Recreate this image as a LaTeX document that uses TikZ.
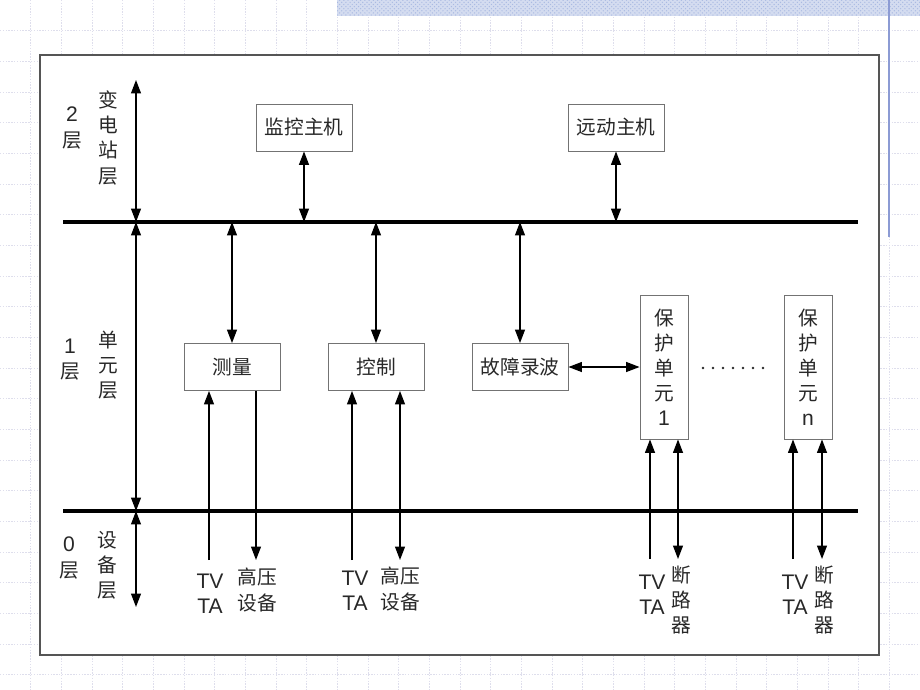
\documentclass[tikz,border=0pt]{standalone}
\usepackage{fontspec}
\setmainfont{Liberation Sans}
\newfontfamily\cjk{Noto Sans CJK SC}
\usepackage{tikz}
\usetikzlibrary{arrows.meta, positioning, patterns}
\definecolor{gridgray}{RGB}{222, 222, 236}
\definecolor{bandblue}{RGB}{212, 220, 240}
\definecolor{banddot}{RGB}{170, 186, 226}
\definecolor{barblue}{RGB}{140, 155, 212}
\definecolor{framegray}{RGB}{85, 85, 85}
\definecolor{boxgray}{RGB}{115, 115, 115}
\definecolor{textgray}{RGB}{40, 40, 40}

\begin{document}
\begin{tikzpicture}[
  x=0.025cm, y=-0.025cm,
  txt/.style={font=\fontsize{15pt}{17.8pt}\selectfont, text=textgray, align=center, inner sep=0pt},
  cjktxt/.style={txt, font=\cjk\fontsize{14pt}{17.8pt}\selectfont},
  box/.style={cjktxt, draw=boxgray, line width=0.6pt, minimum width=2.4cm, minimum height=1.175cm},
  protbox/.style={box, minimum width=1.2cm, minimum height=3.6cm},
  gridline/.style={gridgray, line width=0.4pt, dash pattern=on 1pt off 1pt},
  bus/.style={line width=3pt},
  arr/.style={-{Triangle[length=9.5pt, width=7pt]}, line width=1pt},
  darr/.style={{Triangle[length=9.5pt, width=7pt]}-{Triangle[length=9.5pt, width=7pt]}, line width=1pt}
]
\useasboundingbox (0,0) rectangle (920,690);

% Slide background
\foreach \i in {1,...,29}
  \draw[gridline] (\i*30.667,0) -- (\i*30.667,690);
\foreach \j in {1,...,22}
  \draw[gridline] (0,\j*30.667) -- (920,\j*30.667);
\fill[bandblue] (337,0) rectangle (920,16);
\fill[pattern=crosshatch dots, pattern color=banddot] (337,0) rectangle (920,16);
\draw[barblue, line width=1.5pt] (889,0) -- (889,237);
\draw[framegray, fill=white, line width=1pt] (40,55) rectangle (879,655);

% Buses
\coordinate (busTL) at (63,222);
\coordinate (busTR) at (858,222);
\coordinate (busBL) at (63,511);
\coordinate (busBR) at (858,511);
\draw[bus] (busTL) -- (busTR);
\draw[bus] (busBL) -- (busBR);

% Layer labels
\node[txt] (lv2) at (72,128) {2\\{\cjk\fontsize{14pt}{17.8pt}\selectfont 层}};
\node[cjktxt] (lv2name) at (108,138) {变\\电\\站\\层};
\node[txt] (lv1) at (70,360) {1\\{\cjk\fontsize{14pt}{17.8pt}\selectfont 层}};
\node[cjktxt] (lv1name) at (108,365) {单\\元\\层};
\node[txt] (lv0) at (69,558) {0\\{\cjk\fontsize{14pt}{17.8pt}\selectfont 层}};
\node[cjktxt] (lv0name) at (107,565) {设\\备\\层};

% Layer axis
\coordinate (axTop) at (136,80);
\coordinate (axBot) at (136,607);
\draw[darr] (axTop) -- (axTop |- busTL);
\draw[darr] (axTop |- busTL) -- (axTop |- busBL);
\draw[darr] (axTop |- busBL) -- (axBot);

% Station level
\node[box] (mon) at (304,127.5) {监控主机};
\node[box] (tele) at (616,127.5) {远动主机};
\draw[darr] (mon.south) -- (mon.south |- busTL);
\draw[darr] (tele.south) -- (tele.south |- busTL);

% Unit level
\node[box] (meas) at (232,367) {测量};
\node[box] (ctrl) at (376,367) {控制};
\node[box] (fault) at (520,367) {故障录波};
\node[protbox] (prot1) at (664,367) {保\\护\\单\\元\\{\rmfamily\fontsize{15pt}{17.8pt}\selectfont 1}};
\node[protbox] (protn) at (808,367) {保\\护\\单\\元\\{\rmfamily\fontsize{15pt}{17.8pt}\selectfont n}};
\foreach \k in {0,...,6}
  \fill[textgray] (703+\k*10,368) circle (1.3);

\draw[darr] (meas.north |- busTL) -- (meas.north);
\draw[darr] (ctrl.north |- busTL) -- (ctrl.north);
\draw[darr] (fault.north |- busTL) -- (fault.north);
\draw[darr] (fault.east) -- (prot1.west |- fault.east);

% Device level
\coordinate (m1) at (209,560);
\coordinate (m2) at (256,560);
\coordinate (c1) at (352,560);
\coordinate (c2) at (400,560);
\coordinate (p1a) at (650,559);
\coordinate (p1b) at (678,559);
\coordinate (pna) at (793,559);
\coordinate (pnb) at (822,559);

\draw[arr] (m1) -- (m1 |- meas.south);
\draw[arr] (m2 |- meas.south) -- (m2);
\draw[arr] (c1) -- (c1 |- ctrl.south);
\draw[darr] (c2 |- ctrl.south) -- (c2);
\draw[arr] (p1a) -- (p1a |- prot1.south);
\draw[darr] (p1b |- prot1.south) -- (p1b);
\draw[arr] (pna) -- (pna |- protn.south);
\draw[darr] (pnb |- protn.south) -- (pnb);

\node[txt] (tvta1) at (210,594) {TV\\TA};
\node[cjktxt] (hv1) at (257,590) {高压\\设备};
\node[txt] (tvta2) at (355,591) {TV\\TA};
\node[cjktxt] (hv2) at (400,589) {高压\\设备};
\node[txt] (tvta3) at (652,595) {TV\\TA};
\node[cjktxt] (brk1) at (681,600) {断\\路\\器};
\node[txt] (tvta4) at (795,595) {TV\\TA};
\node[cjktxt] (brkn) at (824,600) {断\\路\\器};

\end{tikzpicture}
\end{document}
